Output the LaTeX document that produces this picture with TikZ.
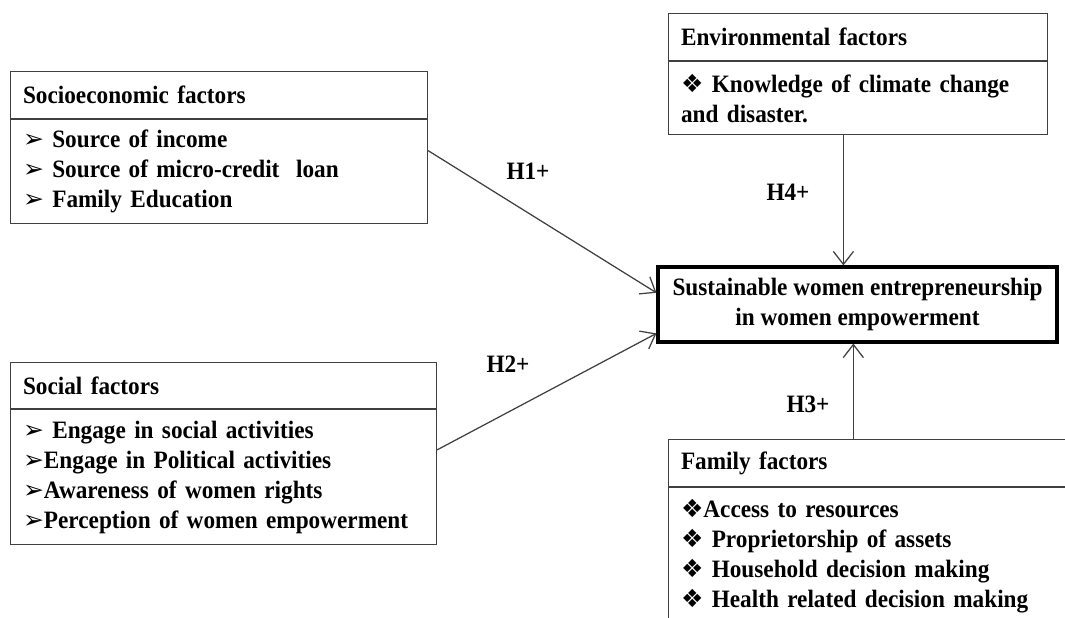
\documentclass[tikz,border=0pt]{standalone}
\usepackage{fontspec}
\setmainfont{Liberation Serif}[FakeStretch=0.93]
\newfontfamily\dingf{DejaVu Sans}[BoldFont=DejaVu Sans]
\usepackage{tikz}
\usetikzlibrary{arrows.meta,calc}
\tikzset{
  hd/.style={draw=black!75,line width=0.5pt,anchor=north west,inner xsep=6pt,inner ysep=0pt,align=left,font=\fontsize{12}{14.4}\selectfont\bfseries},
  bd/.style={hd,anchor=north west},
  core/.style={draw=black,line width=1.5pt,inner sep=0pt,align=center,font=\fontsize{12}{14.4}\selectfont\bfseries,minimum width=191.5pt,minimum height=36pt},
  hyp/.style={draw=black!75,line width=0.6pt,-{Straight Barb[length=2.2mm,width=3.4mm]}},
  lbl/.style={font=\fontsize{12}{14.4}\selectfont\bfseries}
}
\newcommand{\arw}{{\dingf ➢}}
\newcommand{\dmd}{{\dingf ❖}}

\begin{document}
\begin{tikzpicture}[x=0.48pt,y=-0.48pt]
\clip (0,0) rectangle (1065,618);
% factor boxes
\node[hd,text width=188.2pt,minimum height=22.6pt] (socHead) at (10,71) {Socioeconomic factors};
\node[bd,text width=188.2pt,minimum height=49.9pt] (socBody) at (socHead.south west) {\arw\ Source of income\\\arw\ Source of micro-credit\ \ loan\\\arw\ Family Education};
\node[hd,text width=192.5pt,minimum height=22.1pt] (socialHead) at (10,362) {Social factors};
\node[bd,text width=192.5pt,minimum height=64.8pt] (socialBody) at (socialHead.south west) {\arw\ Engage in social activities\\\arw Engage in Political activities\\\arw Awareness of women rights\\\arw Perception of women empowerment};
\node[hd,text width=169.9pt,minimum height=22.6pt] (envHead) at (668,13) {Environmental factors};
\node[bd,text width=169.9pt,minimum height=35pt] (envBody) at (envHead.south west) {\dmd\ Knowledge of climate change\\and disaster.};
\node[hd,text width=189.6pt,minimum height=22.6pt] (famHead) at (668,439) {Family factors};
\node[bd,text width=189.6pt,minimum height=66.2pt] (famBody) at (famHead.south west) {\dmd Access to resources\\\dmd\ Proprietorship of assets\\\dmd\ Household decision making\\\dmd\ Health related decision making};
\node[core] (swe) at (857.5,304.5) {Sustainable women entrepreneurship\\in women empowerment};
% hypotheses
\draw[hyp] ($(socBody.north east)!0.3!(socBody.south east)$) -- ($(swe.north west)!0.35!(swe.south west)$);
\draw[hyp] ($(socialBody.north east)!0.3!(socialBody.south east)$) -- ($(swe.north west)!0.87!(swe.south west)$);
\draw[hyp] ([xshift=-7pt]envBody.south) -- ([xshift=-7pt]envBody.south |- swe.north);
\draw[hyp] ([xshift=-2pt]swe.south |- famHead.north) -- ([xshift=-2pt]swe.south);
\node[lbl] (hOne) at (528,171) {H1+};
\node[lbl] (hTwo) at (508,364) {H2+};
\node[lbl] (hThree) at (808,404) {H3+};
\node[lbl] (hFour) at (788,192) {H4+};
\end{tikzpicture}
\end{document}
